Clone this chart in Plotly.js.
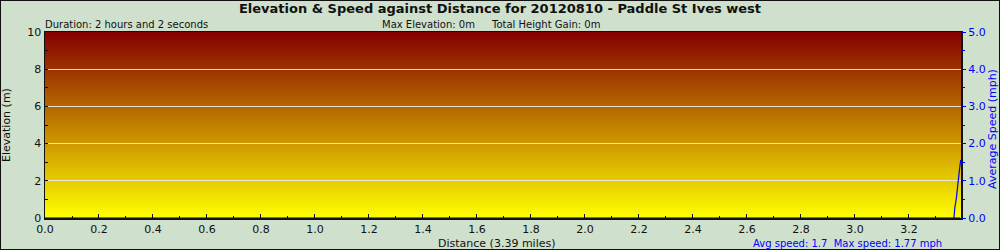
<!DOCTYPE html>
<html>
<head>
<meta charset="utf-8">
<script src="https://cdn.plot.ly/plotly-3.0.1.min.js"></script>
<style>
  html, body { margin: 0; padding: 0; background: #cfe0cd; }
  #wrap { position: relative; width: 1000px; height: 250px; }
  #chart { width: 1000px; height: 250px; }
  #frame { position: absolute; left: 0; top: 0; width: 1000px; height: 250px; box-sizing: border-box; border: 1px solid #111; pointer-events: none; }
</style>
</head>
<body>
<div id="wrap"><div id="chart"></div><div id="frame"></div></div>
<script>
// ---- data ----
const titleText = "Elevation & Speed against Distance for 20120810 - Paddle St Ives west";
const durationText = "Duration: 2 hours and 2 seconds";
const maxElevText = "Max Elevation: 0m";
const heightGainText = "Total Height Gain: 0m";
const xTitleText = "Distance (3.39 miles)";
const speedSummaryText = "Avg speed: 1.7\u00a0\u00a0Max speed: 1.77 mph";
const yTitleText = "Elevation (m)";
const y2TitleText = "Average Speed (mph)";

const elevDistance = [0, 3.39];
const elevation = [0, 0];

const speedDistance = [3.367, 3.370, 3.376, 3.381, 3.388, 3.392];
const speed = [0, 0.27, 0.54, 0.97, 1.34, 1.56];

const totalDistance = 3.393;

// ---- chart ----
const font = "DejaVu Sans, Verdana, sans-serif";
const blue = "#0000ff";

const gradientSvg = '<svg xmlns="http://www.w3.org/2000/svg" width="10" height="100" preserveAspectRatio="none">' +
  '<defs><linearGradient id="g" x1="0" y1="0" x2="0" y2="1">' +
  '<stop offset="0" stop-color="#840000"/><stop offset="1" stop-color="#ffff00"/>' +
  '</linearGradient></defs><rect width="10" height="100" fill="url(#g)"/></svg>';
const gradientUri = "data:image/svg+xml;base64," + btoa(gradientSvg);

const traces = [
  {
    x: elevDistance, y: elevation, type: "scatter", mode: "lines",
    line: {color: "#000000", width: 1}, yaxis: "y", hoverinfo: "skip"
  },
  {
    x: speedDistance, y: speed, type: "scatter", mode: "lines",
    line: {color: blue, width: 1.2}, yaxis: "y2", hoverinfo: "skip"
  }
];

function ann(text, xpx, ypx, opts) {
  return Object.assign({
    text: text, xref: "paper", yref: "paper",
    x: 0, y: 1, xshift: xpx - 45, yshift: 32 - ypx,
    xanchor: "left", yanchor: "middle", showarrow: false,
    font: {family: font, size: 10, color: "#111"}
  }, opts || {});
}

const layout = {
  width: 1000, height: 250,
  margin: {l: 45, r: 39, t: 32, b: 32, pad: 0},
  paper_bgcolor: "#cfe0cd",
  plot_bgcolor: "rgba(0,0,0,0)",
  showlegend: false,
  title: {
    text: titleText, x: 0.5, xref: "container", y: 1 - 8 / 250, yref: "container",
    xanchor: "center", yanchor: "middle",
    font: {family: font, size: 13, color: "#111", weight: "bold"}
  },
  images: [{
    source: gradientUri, xref: "x domain", yref: "y domain",
    x: 0, y: 1, sizex: 1, sizey: 1, xanchor: "left", yanchor: "top",
    sizing: "stretch", layer: "below"
  }],
  xaxis: {
    range: [0, totalDistance], dtick: 0.2, tick0: 0, tickformat: ".1f",
    ticks: "inside", ticklen: 4, tickcolor: "#111", tickwidth: 1,
    minor: {dtick: 0.1, ticks: "inside", ticklen: 2, tickcolor: "#111"},
    showline: true, linecolor: "#111", linewidth: 1.5, mirror: true,
    showgrid: false, zeroline: false,
    tickfont: {family: font, size: 11, color: "#111"}
  },
  yaxis: {
    range: [0, 10], dtick: 2, tick0: 0,
    ticks: "inside", ticklen: 3, tickcolor: "#111",
    minor: {dtick: 1, ticks: "inside", ticklen: 3, tickcolor: "#111"},
    showline: true, linecolor: "#111", linewidth: 1.5, mirror: true,
    showgrid: true, gridcolor: "rgba(235,235,235,0.9)", gridwidth: 1,
    zeroline: false,
    tickfont: {family: font, size: 11, color: "#111"}
  },
  yaxis2: {
    overlaying: "y", side: "right",
    range: [0, 5], dtick: 1, tick0: 0, tickformat: ".1f",
    ticks: "outside", ticklen: 4, tickcolor: blue,
    minor: {dtick: 0.5, ticks: "outside", ticklen: 3, tickcolor: blue},
    showline: false, showgrid: false, zeroline: false,
    tickfont: {family: font, size: 11, color: blue}
  },
  annotations: [
    ann(durationText, 43, 24),
    ann(maxElevText, 380, 24),
    ann(heightGainText, 489, 24),
    ann(xTitleText, 497, 243, {xanchor: "center", font: {family: font, size: 11, color: "#111"}}),
    ann(speedSummaryText, 751, 243, {font: {family: font, size: 10, color: blue}}),
    ann(yTitleText, 6, 125, {xanchor: "center", textangle: -90, font: {family: font, size: 11, color: "#111"}}),
    ann(y2TitleText, 992, 129, {xanchor: "center", textangle: -90, font: {family: font, size: 11, color: blue}})
  ]
};

Plotly.newPlot("chart", traces, layout, {staticPlot: true, displayModeBar: false});
</script>
</body>
</html>
